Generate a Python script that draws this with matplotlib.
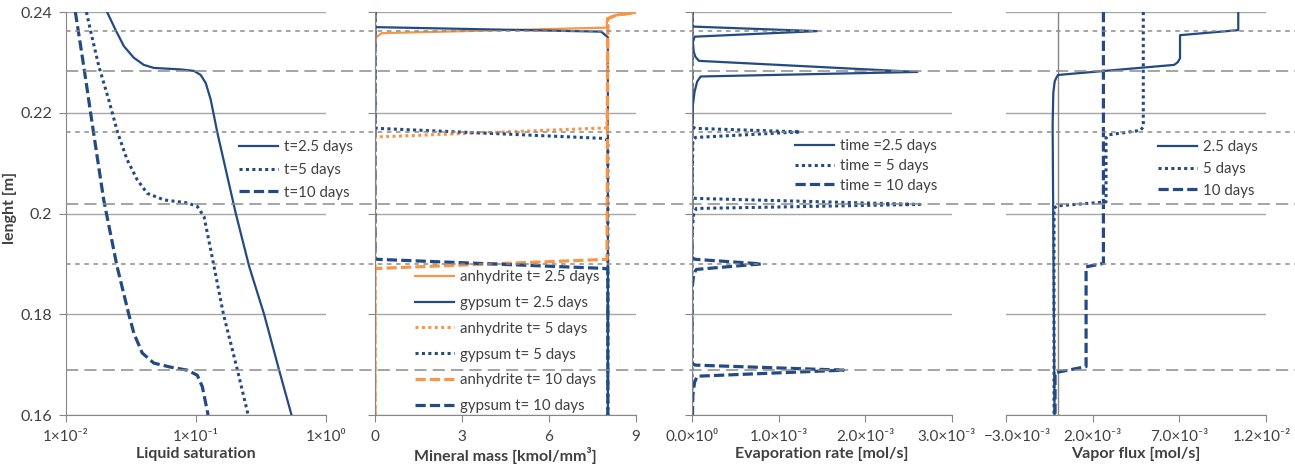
import matplotlib
matplotlib.use("Agg")
import matplotlib.pyplot as plt
import matplotlib.transforms as mtransforms

plt.rcParams['font.family'] = ['Lato', 'Noto Sans', 'DejaVu Sans']

# liquid saturation (log scale) vs height
sat_y = {
    "25": [0.2400, 0.2365, 0.2332, 0.2309, 0.2295, 0.2289, 0.2286, 0.2283, 0.2275, 0.2259, 0.2226, 0.2160,
           0.2000, 0.1895, 0.1800, 0.1689, 0.1600],
    "5": [0.2400, 0.2358, 0.2292, 0.2226, 0.2160, 0.2107, 0.2067, 0.2040, 0.2027, 0.2021, 0.2014, 0.1994,
          0.1928, 0.1800, 0.1689, 0.1600],
    "10": [0.2400, 0.2292, 0.2160, 0.2027, 0.1895, 0.1800, 0.1762, 0.1723, 0.1703, 0.1695, 0.1689, 0.1679,
           0.1656, 0.1600],
}
sat_x = {
    "25": [0.0207, 0.0240, 0.0279, 0.0333, 0.0397, 0.0474, 0.0762, 0.0966, 0.1087, 0.1188, 0.1298, 0.1461,
           0.2023, 0.2564, 0.334, 0.436, 0.543],
    "5": [0.01436, 0.0156, 0.0179, 0.0213, 0.0250, 0.0295, 0.0353, 0.0422, 0.0567, 0.0857, 0.1023, 0.1152,
          0.1298, 0.1626, 0.2084, 0.2518],
    "10": [0.0118, 0.0137, 0.0163, 0.0195, 0.0247, 0.0304, 0.0333, 0.0386, 0.0474, 0.0638, 0.0857, 0.1023,
           0.1119, 0.1239],
}
sat_labels = ["t=2.5 days", "t=5 days", "t=10 days"]

# mineral mass [kmol/mm3]
anh_25_x = [0, 0, 0.23, 7.99, 8.0, 8.33, 9.0]
anh_25_y = [0.16, 0.2348, 0.2358, 0.2369, 0.2387, 0.2394, 0.2399]
gyp_25_x = [0, 0, 7.8, 8.03, 8.03]
gyp_25_y = [0.24, 0.2370, 0.2361, 0.2350, 0.16]
anh_5_x = [0, 0, 0.1, 8.0, 8.03, 8.33, 9.0]
anh_5_y = [0.16, 0.2151, 0.2152, 0.2170, 0.2387, 0.2394, 0.2399]
gyp_5_x = [0, 0, 0.1, 7.9, 8.03, 8.03]
gyp_5_y = [0.24, 0.2170, 0.2169, 0.2149, 0.2145, 0.16]
anh_10_x = [0, 0, 0.1, 8.0, 8.03, 8.33, 9.0]
anh_10_y = [0.16, 0.1891, 0.1891, 0.1909, 0.2387, 0.2394, 0.2399]
gyp_10_x = [0, 0, 0.1, 7.9, 8.03, 8.03]
gyp_10_y = [0.24, 0.1910, 0.1909, 0.1891, 0.1889, 0.16]
mineral_labels = ["anhydrite t= 2.5 days", "gypsum t= 2.5 days", "anhydrite t= 5 days",
                  "gypsum t= 5 days", "anhydrite t= 10 days", "gypsum t= 10 days"]

# evaporation rate [mol/s]
evap_25_y = [0.2400, 0.2375, 0.2371, 0.2362, 0.2351, 0.2340, 0.2321, 0.2311, 0.2303, 0.2281, 0.2272,
             0.2262, 0.2242, 0.2215, 0.2150, 0.1600]
evap_25_x = [0.0, 0.005e-3, 0.02e-3, 1.44e-3, 0.03e-3, 0.01e-3, 0.02e-3, 0.04e-3, 0.08e-3, 2.60e-3,
             0.10e-3, 0.06e-3, 0.03e-3, 0.01e-3, 0.0, 0.0]
evap_5_y = [0.2400, 0.2172, 0.2169, 0.2162, 0.2151, 0.2145, 0.2040, 0.2032, 0.2030, 0.2018, 0.2010,
            0.2000, 0.1960, 0.1600]
evap_5_x = [0.0, 0.0, 0.04e-3, 1.25e-3, 0.04e-3, 0.01e-3, 0.0, 0.0, 0.04e-3, 2.63e-3, 0.05e-3,
            0.02e-3, 0.0, 0.0]
evap_10_y = [0.2400, 0.1912, 0.1909, 0.1900, 0.1889, 0.1880, 0.1850, 0.1702, 0.1699, 0.1689, 0.1677,
             0.1665, 0.1640, 0.1600]
evap_10_x = [0.0, 0.0, 0.04e-3, 0.80e-3, 0.05e-3, 0.02e-3, 0.0, 0.0, 0.04e-3, 1.75e-3, 0.06e-3,
             0.03e-3, 0.01e-3, 0.005e-3]
evap_labels = ["time =2.5 days", "time = 5 days", "time = 10 days"]

# vapor flux [mol/s]
flux_25_y = [0.2400, 0.2364, 0.2354, 0.2308, 0.2300, 0.2295, 0.2275, 0.2268, 0.2262, 0.2240, 0.2176, 0.1600]
flux_25_x = [10.4e-3, 10.4e-3, 7.04e-3, 7.04e-3, 6.9e-3, 6.7e-3, 0.0, -0.12e-3, -0.19e-3, -0.27e-3,
             -0.31e-3, -0.2e-3]
flux_5_y = [0.2400, 0.2172, 0.2165, 0.2156, 0.2150, 0.2023, 0.2015, 0.2010, 0.1600]
flux_5_x = [4.92e-3, 4.92e-3, 4.75e-3, 2.9e-3, 2.77e-3, 2.77e-3, -0.08e-3, -0.23e-3, -0.23e-3]
flux_10_y = [0.2400, 0.1901, 0.1894, 0.1696, 0.1684, 0.1600]
flux_10_x = [2.62e-3, 2.62e-3, 1.62e-3, 1.62e-3, -0.17e-3, -0.17e-3]
flux_labels = ["2.5 days", "5 days", "10 days"]

# front positions marked across all panels
front_levels = [0.2362, 0.2282, 0.2162, 0.2019, 0.1900, 0.1689]
front_styles = ["short", "long", "short", "long", "short", "long"]

y_ticks = [0.16, 0.18, 0.20, 0.22, 0.24]
y_ticklabels = ["0.16", "0.18", "0.2", "0.22", "0.24"]

BLUE = "#234A82"
ORANGE = "#F79646"
GRID = "#A6A6A6"
AXC = "#868686"
TXT = "#404040"

sty = {
    "solid": dict(ls="-", lw=1.6),
    "dot": dict(ls=(0, (1, 1.1)), lw=2.2),
    "dash": dict(ls=(0, (3.2, 1.3)), lw=2.3),
}

W, H = 1295, 470
fig = plt.figure(figsize=(W / 100, H / 100), dpi=100)


def add_panel(left, right, top=12, bottom=415):
    return fig.add_axes([left / W, 1 - bottom / H, (right - left) / W, (bottom - top) / H])


def style(ax, xlabel, show_left=True):
    ax.set_facecolor("none")
    ax.set_ylim(0.16, 0.24)
    ax.set_yticks(y_ticks)
    ax.grid(axis="y", color=GRID, lw=1.0)
    ax.set_axisbelow(True)
    for s in ["top", "right"]:
        ax.spines[s].set_visible(False)
    ax.spines["bottom"].set_color(AXC)
    ax.spines["left"].set_color(AXC)
    ax.spines["left"].set_visible(show_left)
    ax.tick_params(axis="x", direction="out", length=5, color=AXC, labelsize=11, labelcolor=TXT, pad=6)
    ax.tick_params(axis="y", direction="out", length=5 if show_left else 0, color=AXC, labelsize=11.5,
                   labelcolor=TXT, pad=5)
    ax.tick_params(which="minor", length=0)
    ax.set_xlabel(xlabel, fontsize=11.5, fontweight="bold", color=TXT, labelpad=2)


def legend(ax, x, y, spacing):
    ax.legend(loc="upper left", bbox_to_anchor=(x / W, 1 - y / H), bbox_transform=fig.transFigure,
              frameon=False, fontsize=10.8, handlelength=2.6, handletextpad=0.4, borderpad=0,
              borderaxespad=0, labelspacing=spacing, labelcolor=TXT)


def nudge(label, dx):
    label.set_transform(label.get_transform() + mtransforms.ScaledTranslation(dx / 100, 0, fig.dpi_scale_trans))


# panel 1: liquid saturation
ax1 = add_panel(66, 326)
for key, st, lab in zip(["25", "5", "10"], ["solid", "dot", "dash"], sat_labels):
    ax1.plot(sat_x[key], sat_y[key], color=BLUE, label=lab, **sty[st])
ax1.set_xscale("log")
ax1.set_xlim(1e-2, 1e0)
ax1.set_xticks([1e-2, 1e-1, 1e0])
ax1.set_xticklabels(["1×10⁻²", "1×10⁻¹", "1×10⁰"])
style(ax1, "Liquid saturation")
ax1.set_yticklabels(y_ticklabels)
legend(ax1, 239, 140, 0.59)

# panel 2: mineral mass
ax2 = add_panel(375, 636)
mineral = [(anh_25_x, anh_25_y, ORANGE, "solid"), (gyp_25_x, gyp_25_y, BLUE, "solid"),
           (anh_5_x, anh_5_y, ORANGE, "dot"), (gyp_5_x, gyp_5_y, BLUE, "dot"),
           (anh_10_x, anh_10_y, ORANGE, "dash"), (gyp_10_x, gyp_10_y, BLUE, "dash")]
for (mx, my, c, st), lab in zip(mineral, mineral_labels):
    ax2.plot(mx, my, color=c, label=lab, **sty[st])
ax2.set_xlim(0, 9)
ax2.set_xticks([0, 3, 6, 9])
style(ax2, "Mineral mass [kmol/mm³]")
ax2.set_yticklabels([])
legend(ax2, 415, 270, 0.79)

# panel 3: evaporation rate
ax3 = add_panel(692, 952)
for ex, ey, st, lab in zip([evap_25_x, evap_5_x, evap_10_x], [evap_25_y, evap_5_y, evap_10_y],
                           ["solid", "dot", "dash"], evap_labels):
    ax3.plot(ex, ey, color=BLUE, label=lab, **sty[st])
ax3.set_xlim(0, 3e-3)
ax3.set_xticks([0, 1e-3, 2e-3, 3e-3])
ax3.set_xticklabels(["0.0×10⁰", "1.0×10⁻³", "2.0×10⁻³", "3.0×10⁻³"])
style(ax3, "Evaporation rate [mol/s]")
ax3.set_yticklabels([])
nudge(ax3.get_xticklabels()[-1], -6)
legend(ax3, 795, 139, 0.39)

# panel 4: vapor flux
ax4 = add_panel(1006, 1266)
for fx, fy, st, lab in zip([flux_25_x, flux_5_x, flux_10_x], [flux_25_y, flux_5_y, flux_10_y],
                           ["solid", "dot", "dash"], flux_labels):
    ax4.plot(fx, fy, color=BLUE, label=lab, **sty[st])
ax4.set_xlim(-3e-3, 12e-3)
ax4.set_xticks([-3e-3, 2e-3, 7e-3, 12e-3])
ax4.set_xticklabels(["\u22123.0×10⁻³", "2.0×10⁻³", "7.0×10⁻³", "1.2×10⁻²"])
style(ax4, "Vapor flux [mol/s]", show_left=False)
ax4.set_yticklabels([])
nudge(ax4.get_xticklabels()[0], 11)
nudge(ax4.get_xticklabels()[-1], -4)
ax4.axvline(0, color=AXC, lw=1.0, zorder=1)
legend(ax4, 1158, 140, 0.52)

fig.text(10 / W, 1 - 208 / H, "lenght [m]", rotation=90, ha="center", va="center",
         fontsize=11.5, fontweight="bold", color=TXT)

# dashed marker lines spanning the whole figure
axr = fig.add_axes([66 / W, 1 - 415 / H, 1 - 66 / W, 403 / H])
axr.set_ylim(0.16, 0.24)
axr.axis("off")
dash_map = {"short": (0, (3, 3)), "long": (0, (8, 4))}
for lvl, s in zip(front_levels, front_styles):
    axr.axhline(lvl, color="#8C8C8C", lw=1.1, ls=dash_map[s])

fig.savefig("out.png", dpi=100)
